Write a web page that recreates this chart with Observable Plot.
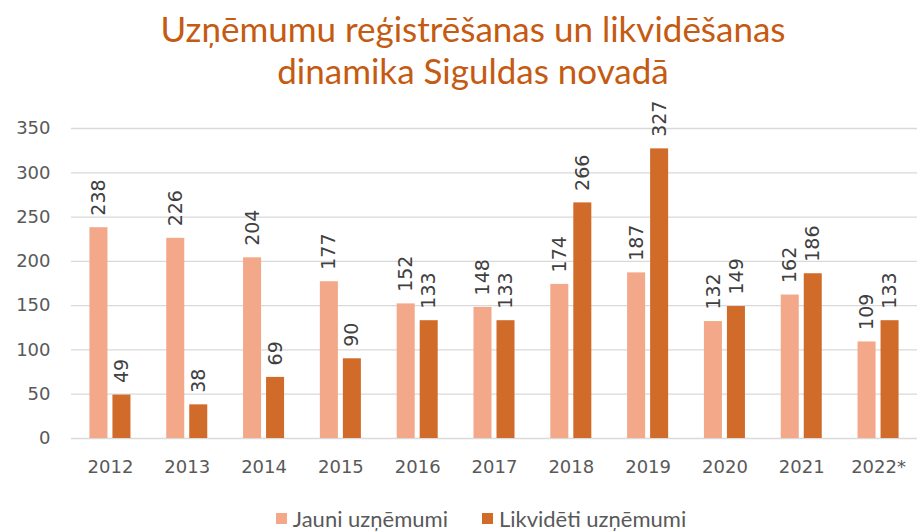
<!DOCTYPE html>
<html>
<head>
<meta charset="utf-8">
<script src="https://cdn.jsdelivr.net/npm/d3@7"></script>
<script src="https://cdn.jsdelivr.net/npm/@observablehq/plot@0.6"></script>
<style>
  html, body { margin: 0; padding: 0; background: #fff; }
  #wrap { width: 920px; height: 531px; position: relative; overflow: hidden; }
  #title { position: absolute; left: 0; top: 7px; width: 920px; text-align: center; padding-left: 26px; box-sizing: border-box;
    font-family: Lato, "Open Sans", sans-serif; font-size: 35px; line-height: 42px; color: #C55A11; }
  #chart { position: absolute; left: 0; top: 100px; }
  #legend { position: absolute; left: 0; top: 505px; width: 920px; display: flex; justify-content: center;
    font-family: Lato, "Open Sans", sans-serif; font-size: 22px; color: #595959; padding-left: 42px; box-sizing: border-box; }
  .item { display: flex; align-items: center; margin: 0 17px; }
  .sw { width: 11px; height: 11px; margin-right: 6px; }
</style>
</head>
<body>
<div id="wrap">
  <div id="title">Uzņēmumu reģistrēšanas un likvidēšanas<br>dinamika Siguldas novadā</div>
  <div id="chart"></div>
  <div id="legend"></div>
</div>
<script>
const years = ["2012", "2013", "2014", "2015", "2016", "2017", "2018", "2019", "2020", "2021", "2022*"];
const jauni = [238, 226, 204, 177, 152, 148, 174, 187, 132, 162, 109];
const likvideti = [49, 38, 69, 90, 133, 133, 266, 327, 149, 186, 133];
const yTicks = [0, 50, 100, 150, 200, 250, 300, 350];
const seriesNames = ["Jauni uzņēmumi", "Likvidēti uzņēmumi"];
const colors = ["#F2A889", "#D16B2A"];

const jauniData = years.map((year, i) => ({year, value: jauni[i]}));
const likvData = years.map((year, i) => ({year, value: likvideti[i]}));

const chart = Plot.plot({
  width: 920,
  height: 400,
  marginLeft: 71,
  marginRight: 3,
  marginTop: 28,
  marginBottom: 62,
  style: {fontFamily: "DejaVu Sans", fontSize: "18px", color: "#595959", background: "white", overflow: "visible"},
  x: {domain: years, paddingInner: 0.466, paddingOuter: 0.24, round: false, label: null, tickSize: 0, tickPadding: 22},
  y: {domain: [0, 350], ticks: yTicks, label: null, tickSize: 0, tickPadding: 21},
  marks: [
    Plot.ruleY(yTicks, {stroke: "#d9d9d9", strokeWidth: 1.3}),
    Plot.barY(jauniData, {x: "year", y: "value", fill: colors[0], insetRight: 23}),
    Plot.barY(likvData, {x: "year", y: "value", fill: colors[1], insetLeft: 23}),
    Plot.text(jauniData, {x: "year", y: "value", text: d => String(d.value), rotate: -90, textAnchor: "start",
      lineAnchor: "middle", dx: -11.5, dy: -12, fill: "#404040", fontSize: 19}),
    Plot.text(likvData, {x: "year", y: "value", text: d => String(d.value), rotate: -90, textAnchor: "start",
      lineAnchor: "middle", dx: 11.5, dy: -12, fill: "#404040", fontSize: 19})
  ]
});
document.getElementById("chart").appendChild(chart);

const legend = document.getElementById("legend");
seriesNames.forEach((name, i) => {
  const item = document.createElement("div");
  item.className = "item";
  const sw = document.createElement("span");
  sw.className = "sw";
  sw.style.background = colors[i];
  const label = document.createElement("span");
  label.textContent = name;
  item.appendChild(sw);
  item.appendChild(label);
  legend.appendChild(item);
});
</script>
</body>
</html>
